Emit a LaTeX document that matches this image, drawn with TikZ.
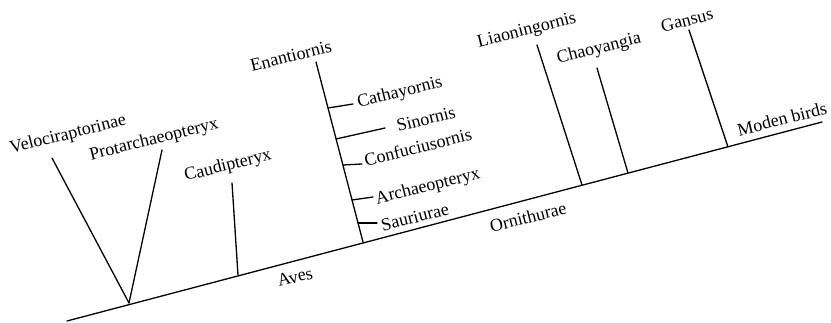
\documentclass[tikz,border=0pt]{standalone}
\usepackage{fontspec}
\setmainfont{Liberation Serif}
\begin{document}
\begin{tikzpicture}[x=1pt,y=-1pt,
  branch/.style={line width=1.3pt, line cap=round},
  lbl/.style={inner sep=0pt, font=\fontsize{18}{20}\selectfont, rotate=14}]
\useasboundingbox (0,0) rectangle (831,323);
% main axis
\coordinate (m0) at (67,321);
\coordinate (m1) at (822,122);
\coordinate (jv) at (129,303);
\coordinate (jc) at (238,275);
\coordinate (je) at (363,242);
\coordinate (jl) at (582,185);
\coordinate (jch) at (628,173);
\coordinate (jg) at (728,147);
% tops
\coordinate (tv) at (52,158);
\coordinate (tp) at (162,150);
\coordinate (tc) at (232,183);
\coordinate (te) at (316,62);
\coordinate (tl) at (537,45);
\coordinate (tch) at (597,68);
\coordinate (tg) at (689,30);
% Enantiornis side ticks
\coordinate (s1a) at (328,108); \coordinate (s1b) at (353,104);
\coordinate (s2a) at (336,139); \coordinate (s2b) at (385,128);
\coordinate (s3a) at (343,165); \coordinate (s3b) at (362,164);
\coordinate (s4a) at (352,200); \coordinate (s4b) at (373,197);
\coordinate (s5a) at (358,223); \coordinate (s5b) at (377,223);

\draw[branch] (m0) -- (m1);
\draw[branch] (tv) -- (jv);
\draw[branch] (tp) -- (jv);
\draw[branch] (tc) -- (jc);
\draw[branch] (te) -- (je);
\draw[branch] (tl) -- (jl);
\draw[branch] (tch) -- (jch);
\draw[branch] (tg) -- (jg);
\draw[branch] (s1a) -- (s1b);
\draw[branch] (s2a) -- (s2b);
\draw[branch] (s3a) -- (s3b);
\draw[branch] (s4a) -- (s4b);
\draw[branch] (s5a) -- (s5b);

\node[lbl] (nv) at (68,135) {Velociraptorinae};
\node[lbl] (np) at (154,140) {Protarchaeopteryx};
\node[lbl] (nc) at (228,166) {Caudipteryx};
\node[lbl] (ne) at (291,56) {Enantiornis};
\node[lbl] (ncat) at (400,93) {Cathayornis};
\node[lbl] (nsin) at (426,119) {Sinornis};
\node[lbl] (ncon) at (418,147) {Confuciusornis};
\node[lbl] (narc) at (428,187) {Archaeopteryx};
\node[lbl] (nsau) at (415,217) {Sauriurae};
\node[lbl] (naves) at (295,277) {Aves};
\node[lbl] (norn) at (528,217) {Ornithurae};
\node[lbl] (nlia) at (527,31) {Liaoningornis};
\node[lbl] (ncha) at (599,49) {Chaoyangia};
\node[lbl] (ngan) at (687,20) {Gansus};
\node[lbl] (nmod) at (782,119) {Moden birds};
\end{tikzpicture}
\end{document}
